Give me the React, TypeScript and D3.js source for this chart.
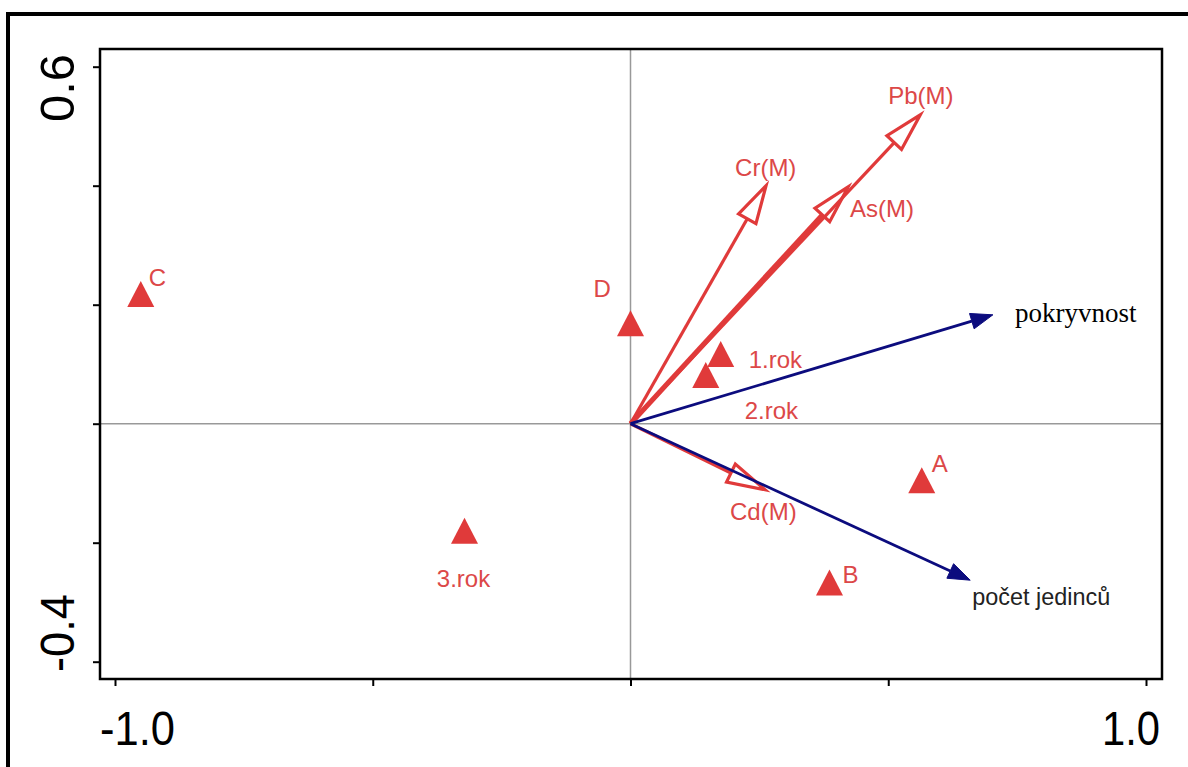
import React, { useRef, useEffect } from "react";
import * as d3 from "d3";

// sample scores (triangles)
const sampleNames = ["C", "D", "1.rok", "2.rok", "3.rok", "A", "B"];
const sampleX = [-0.95, 0.0, 0.175, 0.146, -0.322, 0.565, 0.386];
const sampleY = [0.218, 0.169, 0.117, 0.082, -0.18, -0.095, -0.267];

// species arrows (red, hollow heads)
const speciesNames = ["Cr(M)", "As(M)", "Pb(M)", "Cd(M)"];
const speciesX = [0.263, 0.422, 0.562, 0.261];
const speciesY = [0.4, 0.398, 0.519, -0.111];

// environmental arrows (blue, filled heads)
const envNames = ["pokryvnost", "počet jedinců"];
const envX = [0.703, 0.659];
const envY = [0.183, -0.263];

const xTicks = [-1, -0.5, 0, 0.5, 1];
const yTicks = [-0.4, -0.2, 0, 0.2, 0.4, 0.6];
const xTickLabels = ["-1.0", "1.0"];
const yTickLabels = ["-0.4", "0.6"];

// label offsets in pixels from the mark
const sampleOffset = {
  "C": [8, -8, "start"], "D": [-37, -26, "start"], "1.rok": [28, 14, "start"],
  "2.rok": [39, 44, "start"], "3.rok": [-1, 56, "middle"], "A": [10, -8, "start"], "B": [13, 0, "start"],
};
const speciesOffset = {
  "Cr(M)": [-31, -10], "As(M)": [2, 30], "Pb(M)": [-32, -11], "Cd(M)": [-35, 30],
};
const envOffset = { "pokryvnost": [22, 7], "počet jedinců": [2, 25] };

const RED = "#e03a3a";
const RED_TEXT = "#dc4848";
const BLUE = "#0c0c7e";

function Biplot() {
  const svgRef = useRef(null);

  useEffect(() => {
    const width = 1188, height = 767;
    const xScale = d3.scaleLinear().domain([-1, 1]).range([115, 1146]);
    const yScale = d3.scaleLinear().domain([-0.4, 0.6]).range([661.7, 66.7]);
    const frame = { left: 100, right: 1162, top: 49, bottom: 679 };

    const svg = d3.select(svgRef.current);
    svg.selectAll("*").remove();
    svg.attr("width", width).attr("height", height);

    svg.append("rect").attr("width", width).attr("height", height).attr("fill", "white");

    // outer border
    svg.append("rect")
      .attr("x", 8).attr("y", 14)
      .attr("width", width).attr("height", height)
      .attr("fill", "none").attr("stroke", "black").attr("stroke-width", 4);

    // zero lines
    svg.append("line")
      .attr("x1", xScale(0)).attr("x2", xScale(0))
      .attr("y1", frame.top).attr("y2", frame.bottom)
      .attr("stroke", "#999").attr("stroke-width", 1.5);
    svg.append("line")
      .attr("x1", frame.left).attr("x2", frame.right)
      .attr("y1", yScale(0)).attr("y2", yScale(0))
      .attr("stroke", "#999").attr("stroke-width", 1.5);

    // frame
    svg.append("rect")
      .attr("x", frame.left).attr("y", frame.top)
      .attr("width", frame.right - frame.left).attr("height", frame.bottom - frame.top)
      .attr("fill", "none").attr("stroke", "black").attr("stroke-width", 2.5);

    // ticks
    const xAxis = d3.axisBottom(xScale).tickValues(xTicks).tickSize(7).tickSizeOuter(0).tickFormat(() => "");
    const yAxis = d3.axisLeft(yScale).tickValues(yTicks).tickSize(7).tickSizeOuter(0).tickFormat(() => "");
    const gx = svg.append("g").attr("transform", `translate(0,${frame.bottom})`).call(xAxis);
    const gy = svg.append("g").attr("transform", `translate(${frame.left},0)`).call(yAxis);
    [gx, gy].forEach(g => {
      g.select(".domain").remove();
      g.selectAll("line").attr("stroke", "black").attr("stroke-width", 2);
    });

    // tick labels
    const axisFont = "'Liberation Sans', Arial, sans-serif";
    svg.append("text").attr("x", 100).attr("y", 745)
      .attr("font-family", axisFont).attr("font-size", 48)
      .attr("textLength", 75).attr("lengthAdjust", "spacingAndGlyphs")
      .text(xTickLabels[0]);
    svg.append("text").attr("x", 1102).attr("y", 745)
      .attr("font-family", axisFont).attr("font-size", 48)
      .attr("textLength", 58).attr("lengthAdjust", "spacingAndGlyphs")
      .text(xTickLabels[1]);
    svg.append("text").attr("transform", "translate(74,672) rotate(-90)")
      .attr("font-family", axisFont).attr("font-size", 48)
      .attr("textLength", 78).attr("lengthAdjust", "spacingAndGlyphs")
      .text(yTickLabels[0]);
    svg.append("text").attr("transform", "translate(74,122) rotate(-90)")
      .attr("font-family", axisFont).attr("font-size", 48)
      .attr("textLength", 68).attr("lengthAdjust", "spacingAndGlyphs")
      .text(yTickLabels[1]);

    const ox = xScale(0), oy = yScale(0);

    const head = (tx, ty, len, half) => {
      const dx = tx - ox, dy = ty - oy;
      const d = Math.sqrt(dx * dx + dy * dy);
      const ux = dx / d, uy = dy / d;
      const bx = tx - ux * len, by = ty - uy * len;
      return {
        base: [bx, by],
        path: `M${tx},${ty}L${bx - uy * half},${by + ux * half}L${bx + uy * half},${by - ux * half}Z`,
      };
    };

    // species arrows
    const species = speciesNames.map((n, i) => ({ name: n, x: speciesX[i], y: speciesY[i] }));
    species.forEach(d => {
      const tx = xScale(d.x), ty = yScale(d.y);
      const h = head(tx, ty, 38, 10);
      svg.append("line")
        .attr("x1", ox).attr("y1", oy).attr("x2", h.base[0]).attr("y2", h.base[1])
        .attr("stroke", RED).attr("stroke-width", d.name === "As(M)" ? 5 : 3.2);
      svg.append("path").attr("d", h.path)
        .attr("fill", "white").attr("stroke", RED).attr("stroke-width", 3.2)
        .attr("stroke-linejoin", "miter");
      const off = speciesOffset[d.name];
      svg.append("text")
        .attr("x", tx + off[0]).attr("y", ty + off[1])
        .attr("font-family", axisFont).attr("font-size", 24)
        .attr("fill", RED_TEXT).text(d.name);
    });

    // environmental arrows
    const env = envNames.map((n, i) => ({ name: n, x: envX[i], y: envY[i] }));
    env.forEach((d, i) => {
      const tx = xScale(d.x), ty = yScale(d.y);
      const h = head(tx, ty, 22, 8);
      svg.append("line")
        .attr("x1", ox).attr("y1", oy).attr("x2", h.base[0]).attr("y2", h.base[1])
        .attr("stroke", BLUE).attr("stroke-width", 2.8);
      svg.append("path").attr("d", h.path).attr("fill", BLUE).attr("stroke", BLUE).attr("stroke-width", 1);
      const off = envOffset[d.name];
      const t = svg.append("text")
        .attr("x", tx + off[0]).attr("y", ty + off[1])
        .attr("fill", i === 0 ? "black" : "#222")
        .text(d.name);
      if (i === 0) {
        t.attr("font-family", "'Liberation Serif', 'Times New Roman', serif").attr("font-size", 27);
      } else {
        t.attr("font-family", axisFont).attr("font-size", 23)
          .attr("textLength", 138).attr("lengthAdjust", "spacingAndGlyphs");
      }
    });

    // samples
    const samples = sampleNames.map((n, i) => ({ name: n, x: sampleX[i], y: sampleY[i] }));
    const tri = (cx, cy) => `M${cx},${cy - 13}L${cx + 13.5},${cy + 13}L${cx - 13.5},${cy + 13}Z`;
    svg.selectAll(".sample")
      .data(samples)
      .join("path")
        .attr("class", "sample")
        .attr("d", d => tri(xScale(d.x), yScale(d.y)))
        .attr("fill", RED);
    svg.selectAll(".sample-label")
      .data(samples)
      .join("text")
        .attr("class", "sample-label")
        .attr("x", d => xScale(d.x) + sampleOffset[d.name][0])
        .attr("y", d => yScale(d.y) + sampleOffset[d.name][1])
        .attr("text-anchor", d => sampleOffset[d.name][2])
        .attr("font-family", axisFont).attr("font-size", 24)
        .attr("fill", RED_TEXT)
        .text(d => d.name);
  }, []);

  return (
    <div style={{ position: "absolute", left: 0, top: 0 }}>
      <svg ref={svgRef} style={{ display: "block" }}></svg>
    </div>
  );
}

export default function App() {
  return <Biplot />;
}
